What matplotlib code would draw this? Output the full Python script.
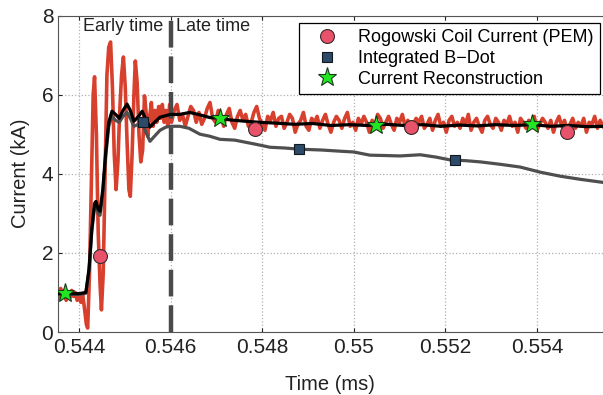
import numpy as np
import matplotlib
matplotlib.use("Agg")
import matplotlib.pyplot as plt

plt.rcParams['font.family'] = ['Liberation Sans', 'DejaVu Sans']

# Rogowski coil current, early time (ms, kA)
rog_t_early = [0.54352, 0.54356, 0.54360, 0.54364, 0.54368, 0.54372, 0.54376, 0.54380,
               0.54384, 0.54388, 0.54392, 0.54396, 0.54400, 0.54404, 0.54408, 0.54412,
               0.54416, 0.54419, 0.54423, 0.54427, 0.54431, 0.54434, 0.54438, 0.54442,
               0.54446, 0.54449, 0.54453, 0.54457, 0.54461, 0.54465, 0.54469, 0.54473,
               0.54477, 0.54481, 0.54485, 0.54489, 0.54493, 0.54497, 0.54501, 0.54505,
               0.54509, 0.54512, 0.54516, 0.54520, 0.54523, 0.54527, 0.54531, 0.54535,
               0.54539, 0.54543, 0.54547, 0.54550, 0.54554, 0.54558, 0.54562, 0.54566,
               0.54570, 0.54574, 0.54578, 0.54582, 0.54586, 0.54590, 0.54594, 0.54598]
rog_i_early = [1.0, 0.85, 1.1, 0.9, 1.05, 0.8, 1.0, 0.85,
               1.05, 0.9, 1.0, 0.8, 0.95, 0.75, 0.95, 0.6,
               0.2, 0.1, 1.5, 3.8, 6.0, 6.45, 5.0, 2.5,
               1.2, 0.56, 1.5, 4.0, 6.5, 7.2, 7.33, 6.2,
               4.5, 3.6, 4.3, 5.6, 6.5, 6.95, 6.2, 4.8,
               3.6, 3.43, 4.5, 6.0, 6.85, 6.3, 5.0, 4.3,
               4.6, 5.97, 5.5, 4.95, 5.4, 5.8, 5.2, 5.6,
               5.3, 5.7, 5.4, 5.75, 5.3, 5.6, 5.2, 5.75]

# Rogowski coil current, late time, sampled every 0.00006 ms from 0.54602
rog_t0_late = 0.54602
rog_dt_late = 0.00006
rog_i_late = [5.3, 5.6, 5.75, 5.35, 5.5, 5.2, 5.45, 5.7, 5.6, 5.3,
              5.55, 5.25, 5.4, 5.65, 5.8, 5.4, 5.3, 5.6, 5.45, 5.2,
              5.5, 5.65, 5.3, 5.15, 5.45, 5.6, 5.35, 5.5, 5.2, 5.3,
              5.55, 5.7, 5.4, 5.25, 5.1, 5.45, 5.35, 5.55, 5.2, 5.4,
              5.45, 5.15, 5.3, 5.5, 5.4, 5.05, 5.25, 5.35, 5.55, 5.2,
              5.1, 5.4, 5.3, 5.45, 5.15, 5.35, 5.5, 5.25, 5.05, 5.3,
              5.45, 5.35, 5.15, 5.4, 5.55, 5.2, 5.3, 5.1, 5.4, 5.25,
              5.45, 5.3, 5.05, 5.35, 5.2, 5.5, 5.4, 5.15, 5.3, 5.45,
              5.25, 5.1, 5.4, 5.3, 5.5, 5.2, 5.35, 5.05, 5.25, 5.4,
              5.3, 5.45, 5.15, 5.25, 5.4, 5.1, 5.35, 5.5, 5.2, 5.3,
              5.05, 5.35, 5.45, 5.2, 5.3, 5.15, 5.4, 5.25, 5.5, 5.1,
              5.3, 5.4, 5.2, 5.05, 5.35, 5.45, 5.25, 5.15, 5.4, 5.3,
              5.1, 5.35, 5.25, 5.45, 5.2, 5.3, 5.05, 5.4, 5.3, 5.15,
              5.35, 5.2, 5.45, 5.1, 5.25, 5.4, 5.3, 5.15, 5.35, 5.05,
              5.3, 5.45, 5.2, 5.35, 5.1, 5.25, 5.4, 5.15, 5.3, 5.2,
              5.4, 5.05, 5.3, 5.25, 5.45, 5.15, 5.35, 5.2, 5.1, 5.3]

# Integrated B-dot
bdot_t = [0.54352, 0.54400, 0.54415, 0.54422, 0.54428, 0.54434, 0.54437, 0.54442,
          0.54446, 0.54452, 0.54458, 0.54465, 0.54472, 0.54480, 0.54488, 0.54496,
          0.54505, 0.54512, 0.54520, 0.54530, 0.54538, 0.54546, 0.54555, 0.54565,
          0.54577, 0.54590, 0.54600, 0.54620, 0.54640, 0.54664, 0.54685, 0.54708,
          0.54740, 0.54784, 0.54817, 0.54850, 0.54883, 0.54930, 0.54970, 0.55000,
          0.55035, 0.55070, 0.55101, 0.55145, 0.55180, 0.55210, 0.55245, 0.55276,
          0.55319, 0.55363, 0.55407, 0.55450, 0.55494, 0.55545]
bdot_i = [0.95, 0.95, 0.98, 1.55, 2.55, 3.15, 3.2, 3.0,
          2.95, 3.5, 4.4, 5.2, 5.45, 5.35, 5.3, 5.45,
          5.55, 5.4, 5.2, 5.25, 5.3, 5.05, 4.82, 4.95,
          5.1, 5.18, 5.2, 5.2, 5.15, 5.0, 4.95, 4.87,
          4.85, 4.75, 4.67, 4.65, 4.62, 4.6, 4.57, 4.55,
          4.47, 4.46, 4.45, 4.48, 4.42, 4.35, 4.33, 4.3,
          4.24, 4.17, 4.04, 3.94, 3.86, 3.78]

# Current reconstruction
rec_t = [0.54352, 0.54400, 0.54415, 0.54422, 0.54428, 0.54434, 0.54437, 0.54442,
         0.54446, 0.54452, 0.54458, 0.54465, 0.54472, 0.54480, 0.54488, 0.54496,
         0.54505, 0.54512, 0.54520, 0.54530, 0.54538, 0.54546, 0.54555, 0.54565,
         0.54577, 0.54590, 0.54600, 0.54620, 0.54642, 0.54660, 0.54686, 0.54710,
         0.54730, 0.54760, 0.54795, 0.54830, 0.54870, 0.54910, 0.54950, 0.54990,
         0.55030, 0.55070, 0.55110, 0.55150, 0.55190, 0.55230, 0.55270, 0.55310,
         0.55350, 0.55390, 0.55430, 0.55470, 0.55510, 0.55550]
rec_i = [0.97, 0.97, 1.0, 1.6, 2.6, 3.25, 3.3, 3.1,
         3.05, 3.6, 4.5, 5.3, 5.58, 5.5, 5.4, 5.6,
         5.76, 5.6, 5.33, 5.45, 5.58, 5.38, 5.18, 5.3,
         5.43, 5.47, 5.5, 5.5, 5.55, 5.5, 5.42, 5.4,
         5.36, 5.33, 5.3, 5.28, 5.25, 5.27, 5.22, 5.24,
         5.22, 5.25, 5.22, 5.24, 5.2, 5.23, 5.21, 5.24,
         5.22, 5.24, 5.2, 5.22, 5.19, 5.2]

# marker positions
rog_mark_t = [0.54446, 0.54784, 0.55125, 0.55466]
rog_mark_i = [1.93, 5.13, 5.18, 5.05]
bdot_mark_t = [0.54539, 0.54880, 0.55220]
bdot_mark_i = [5.30, 4.62, 4.34]
rec_mark_t = [0.54369, 0.54708, 0.55049, 0.55388]
rec_mark_i = [0.99, 5.40, 5.23, 5.25]

x_ticks = [0.544, 0.546, 0.548, 0.550, 0.552, 0.554]
x_tick_labels = ['0.544', '0.546', '0.548', '0.55', '0.552', '0.554']
y_ticks = [0, 2, 4, 6, 8]
split_t = 0.546

rog_t_late = rog_t0_late + rog_dt_late * np.arange(len(rog_i_late))
rog_t = np.concatenate([rog_t_early, rog_t_late])
rog_i = np.concatenate([rog_i_early, rog_i_late])

red = '#d8402e'
grey = '#4f4f4f'

fig = plt.figure(figsize=(6.03, 3.95), dpi=100)
ax = fig.add_axes([57.5 / 603, 63 / 395, 545.5 / 603, 316.5 / 395])

ax.plot(rog_t, rog_i, color=red, lw=2.6, zorder=2)
ax.plot(bdot_t, bdot_i, color=grey, lw=2.3, zorder=3)
ax.axvline(split_t, color='#4a4a4a', lw=3.2, dashes=(6, 2), zorder=4)
ax.plot(rec_t, rec_i, color='black', lw=2.3, zorder=5)

ax.plot(rog_mark_t, rog_mark_i, 'o', ms=10, mfc='#e8526b', mec='#3a2a2a', mew=0.8,
        ls='none', zorder=6, label='Rogowski Coil Current (PEM)')
ax.plot(bdot_mark_t, bdot_mark_i, 's', ms=6.5, mfc='#2d4a68', mec='#101820', mew=0.8,
        ls='none', zorder=6, label='Integrated B\u2212Dot')
ax.plot(rec_mark_t, rec_mark_i, '*', ms=14, mfc='#22e622', mec='#1a3a1a', mew=0.8,
        ls='none', zorder=6, label='Current Reconstruction')

ax.text(0.54496, 7.72, 'Early time', fontsize=13, ha='center', va='center', color='#222222')
ax.text(0.54693, 7.72, 'Late time', fontsize=13, ha='center', va='center', color='#222222')

ax.set_xlim(0.543531, 0.555441)
ax.set_ylim(0, 8)
ax.set_xticks(x_ticks)
ax.set_xticklabels(x_tick_labels)
ax.set_yticks(y_ticks)
ax.tick_params(direction='in', length=3, labelsize=15, colors='#222222',
               top=True, width=0.8, pad=4)
ax.tick_params(axis='y', pad=3)
ax.grid(True, ls=':', color='#b0b0b0', lw=0.9)
for side in ['left', 'bottom', 'top']:
    ax.spines[side].set_color('#555555')
ax.spines['right'].set_visible(False)

ax.set_xlabel('Time (ms)', fontsize=14.5, color='#222222')
ax.set_ylabel('Current (kA)', fontsize=14.5, color='#222222')
ax.xaxis.set_label_coords(0.5, -0.137)
ax.yaxis.set_label_coords(-0.05, 0.5)

leg = ax.legend(loc='upper right', bbox_to_anchor=(600 / 603, 372 / 395),
                bbox_transform=fig.transFigure, borderaxespad=0, fontsize=13,
                handlelength=2.5, handletextpad=0.45, labelspacing=0.2,
                borderpad=0.35, fancybox=False, framealpha=1, edgecolor='black')
leg.get_frame().set_linewidth(0.9)

fig.savefig('out.png', dpi=100)
